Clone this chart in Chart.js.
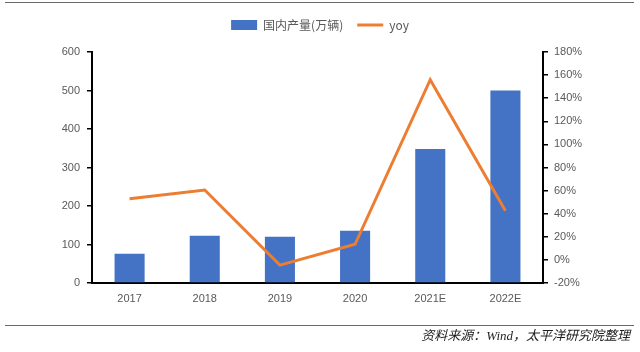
<!DOCTYPE html>
<html>
<head>
<meta charset="utf-8">
<script src="https://cdn.jsdelivr.net/npm/chart.js@4"></script>
<style>
  html, body { margin: 0; padding: 0; background: #fff; }
  #wrap { position: relative; width: 640px; height: 352px; }
  #rule-top { position: absolute; left: 5px; right: 6px; top: 2px; height: 1px; background: #6b6b6b; }
  #rule-bottom { position: absolute; left: 5px; right: 6px; top: 325px; height: 1px; background: #6b6b6b; }
  #source { position: absolute; right: 10px; top: 325px; font: italic 13px "Liberation Serif", "Noto Sans CJK SC", serif; color: #222; }
</style>
</head>
<body>
<div id="wrap">
  <canvas id="chart" width="640" height="352"></canvas>
  <div id="rule-top"></div>
  <div id="rule-bottom"></div>
  <div id="source">资料来源：Wind，太平洋研究院整理</div>
</div>
<script>
// 数据
const years = ['2017', '2018', '2019', '2020', '2021E', '2022E'];
const output = [76, 123, 120, 136, 348, 500];          // 国内产量(万辆)
const yoy = [0.53, 0.605, -0.045, 0.135, 1.56, 0.425];   // 同比

const tickFont = { family: 'Liberation Sans', size: 11 };
const tickColor = '#595959';

// 图例下方多留一点空白
const legendGap = {
    id: 'legendGap',
    beforeInit(chart) {
        const origFit = chart.legend.fit;
        chart.legend.fit = function () {
            origFit.bind(chart.legend)();
            this.height += 11;
        };
    }
};

const ctx = document.getElementById('chart').getContext('2d');

new Chart(ctx, {
    type: 'bar',
    data: {
        labels: years,
        datasets: [{
            label: '国内产量(万辆)',
            data: output,
            backgroundColor: '#4472C4',
            barPercentage: 0.8,
            categoryPercentage: 0.5,
            pointStyle: 'rect',
            yAxisID: 'y',
            order: 2
        }, {
            type: 'line',
            label: 'yoy',
            data: yoy,
            borderColor: '#ED7D31',
            backgroundColor: '#ED7D31',
            borderWidth: 3,
            pointRadius: 0,
            pointStyle: 'line',
            tension: 0,
            yAxisID: 'y1',
            order: 1
        }]
    },
    plugins: [legendGap],
    options: {
        responsive: false,
        animation: false,
        layout: { padding: { left: 0, right: 0, top: 5, bottom: 39 } },
        plugins: {
            legend: {
                position: 'top',
                labels: {
                    usePointStyle: true,
                    pointStyleWidth: 26,
                    boxHeight: 10,
                    padding: 14,
                    color: tickColor,
                    font: { family: 'Noto Sans CJK SC', size: 12 },
                    sort: (a, b) => a.datasetIndex - b.datasetIndex
                }
            },
            tooltip: { enabled: false }
        },
        scales: {
            x: {
                grid: { display: true, drawOnChartArea: false, drawTicks: false },
                border: { color: '#000', width: 2 },
                ticks: { color: tickColor, font: tickFont, padding: 9 },
                afterFit: s => { s.height = 30; }
            },
            y: {
                position: 'left',
                min: 0,
                max: 600,
                ticks: { stepSize: 100, color: tickColor, font: tickFont, padding: 7 },
                grid: { drawOnChartArea: false, tickLength: 5, color: '#000', lineWidth: 1.5 },
                border: { color: '#000', width: 2 },
                afterFit: s => { s.width = 92; }
            },
            y1: {
                position: 'right',
                min: -0.2,
                max: 1.8,
                ticks: {
                    stepSize: 0.2,
                    color: tickColor,
                    font: tickFont,
                    padding: 6,
                    callback: v => Math.round(v * 100) + '%'
                },
                grid: { drawOnChartArea: false, tickLength: 5, color: '#000', lineWidth: 1.5 },
                border: { color: '#000', width: 2 },
                afterFit: s => { s.width = 97; }
            }
        }
    }
});
</script>
</body>
</html>
